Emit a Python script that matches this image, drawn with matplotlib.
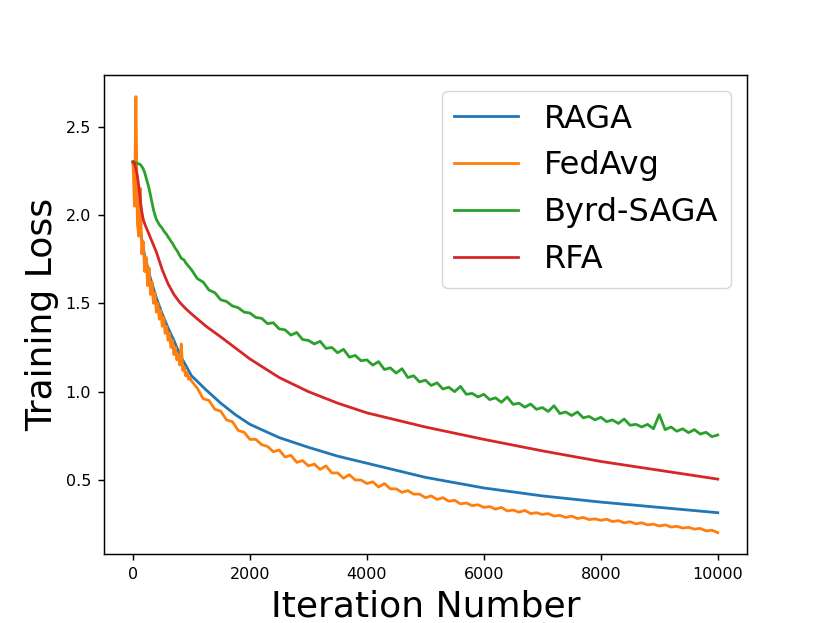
import numpy as np
import matplotlib
matplotlib.use("Agg")
import matplotlib.pyplot as plt

# smooth curves (read at these iterations)
raga_iters = [0, 25, 50, 100, 150, 200, 300, 400, 500, 600, 700, 800, 900, 1000,
              1250, 1500, 1750, 2000, 2500, 3000, 3500, 4000, 5000, 6000, 7000, 8000, 9000, 10000]
raga_loss = [2.30, 2.20, 2.10, 1.97, 1.86, 1.77, 1.64, 1.53, 1.44, 1.36, 1.29, 1.21, 1.15, 1.09,
             1.01, 0.935, 0.87, 0.815, 0.74, 0.685, 0.635, 0.595, 0.515, 0.455, 0.41, 0.375, 0.345, 0.315]

rfa_iters = [0, 25, 50, 75, 100, 125, 150, 175, 200, 250, 300, 400, 500, 600, 700, 800, 900, 1000,
             1250, 1500, 2000, 2500, 3000, 3500, 4000, 5000, 6000, 7000, 8000, 9000, 10000]
rfa_loss = [2.30, 2.29, 2.26, 2.22, 2.16, 2.08, 2.02, 1.975, 1.95, 1.91, 1.87, 1.79, 1.69, 1.61,
            1.55, 1.505, 1.47, 1.44, 1.37, 1.31, 1.185, 1.08, 1.00, 0.935, 0.88, 0.80, 0.73, 0.665,
            0.605, 0.555, 0.505]

# noisy curves: every 25 iterations up to 1000, then every 100
noisy_iters = list(range(0, 1000, 25)) + list(range(1000, 10001, 100))

fedavg_loss = [
    2.30, 2.05, 2.67, 1.95, 1.88, 2.15, 1.78, 1.85, 1.68, 1.76,
    1.60, 1.70, 1.55, 1.62, 1.50, 1.56, 1.45, 1.50, 1.41, 1.46,
    1.37, 1.42, 1.33, 1.37, 1.29, 1.33, 1.25, 1.29, 1.21, 1.25,
    1.18, 1.21, 1.15, 1.27, 1.12, 1.14, 1.09, 1.11, 1.07, 1.08,
    1.06, 1.02, 0.96, 0.95, 0.90, 0.89, 0.84, 0.83, 0.78, 0.77,
    0.73, 0.73, 0.70, 0.69, 0.66, 0.67, 0.63, 0.64, 0.60, 0.61,
    0.58, 0.59, 0.56, 0.58, 0.54, 0.54, 0.51, 0.53, 0.50, 0.50,
    0.48, 0.49, 0.46, 0.48, 0.45, 0.45, 0.43, 0.44, 0.42, 0.42,
    0.40, 0.41, 0.39, 0.40, 0.38, 0.385, 0.365, 0.37, 0.355, 0.36,
    0.345, 0.35, 0.335, 0.345, 0.325, 0.33, 0.318, 0.328, 0.31, 0.315,
    0.305, 0.31, 0.296, 0.30, 0.288, 0.296, 0.282, 0.288, 0.276, 0.28,
    0.272, 0.278, 0.265, 0.27, 0.258, 0.264, 0.252, 0.258, 0.246, 0.25,
    0.24, 0.246, 0.234, 0.238, 0.228, 0.232, 0.222, 0.226, 0.212, 0.216,
    0.202]

byrd_saga_loss = [
    2.30, 2.30, 2.295, 2.29, 2.29, 2.285, 2.275, 2.26, 2.24, 2.21,
    2.18, 2.15, 2.11, 2.07, 2.03, 2.00, 1.975, 1.96, 1.945, 1.935,
    1.925, 1.91, 1.90, 1.89, 1.875, 1.865, 1.85, 1.84, 1.825, 1.81,
    1.80, 1.785, 1.77, 1.755, 1.75, 1.745, 1.73, 1.72, 1.71, 1.70,
    1.69, 1.64, 1.62, 1.575, 1.56, 1.52, 1.51, 1.485, 1.475, 1.45,
    1.445, 1.42, 1.415, 1.385, 1.39, 1.355, 1.35, 1.32, 1.335, 1.295,
    1.29, 1.27, 1.285, 1.245, 1.25, 1.22, 1.24, 1.195, 1.205, 1.175,
    1.18, 1.15, 1.17, 1.125, 1.135, 1.105, 1.13, 1.08, 1.09, 1.055,
    1.065, 1.035, 1.05, 1.015, 1.025, 1.00, 1.03, 0.985, 0.99, 0.97,
    0.985, 0.955, 0.965, 0.94, 0.97, 0.928, 0.935, 0.912, 0.93, 0.90,
    0.91, 0.888, 0.92, 0.876, 0.885, 0.865, 0.885, 0.852, 0.86, 0.84,
    0.855, 0.83, 0.84, 0.82, 0.845, 0.81, 0.815, 0.80, 0.815, 0.79,
    0.87, 0.785, 0.80, 0.776, 0.79, 0.768, 0.785, 0.76, 0.77, 0.745,
    0.755]

fig, ax = plt.subplots(figsize=(8.3, 6.23), dpi=100)

ax.plot(raga_iters, raga_loss, color="#1f77b4", lw=2, label="RAGA")
ax.plot(noisy_iters, fedavg_loss, color="#ff7f0e", lw=2, label="FedAvg")
ax.plot(noisy_iters, byrd_saga_loss, color="#2ca02c", lw=2, label="Byrd-SAGA")
ax.plot(rfa_iters, rfa_loss, color="#d62728", lw=2, label="RFA")

ax.set_xlabel("Iteration Number", fontsize=26, labelpad=5)
ax.set_ylabel("Training Loss", fontsize=26, labelpad=5)
ax.tick_params(labelsize=11.5, length=4.6, width=1.05, pad=4.5)
for s in ax.spines.values():
    s.set_linewidth(1.05)

ax.legend(loc="upper right", fontsize=23)

fig.savefig("out.png", dpi=100)
